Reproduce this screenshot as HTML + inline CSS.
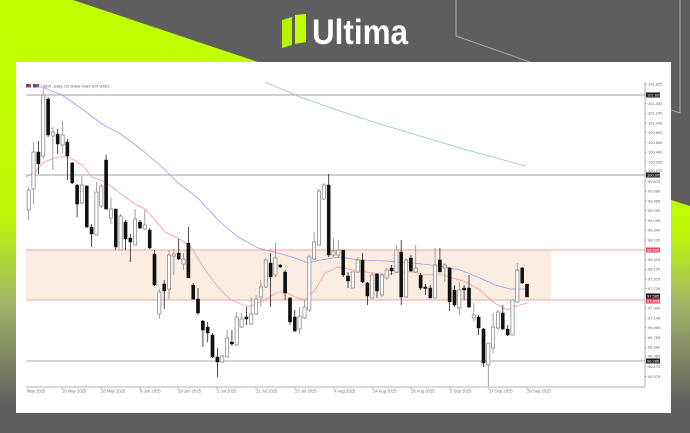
<!DOCTYPE html>
<html><head><meta charset="utf-8"><style>
html,body{margin:0;padding:0;width:690px;height:433px;overflow:hidden;background:#5e5e5e}
svg{display:block}
.w{fill:#fff;stroke:#7c7c7c;stroke-width:0.7}
.b{fill:#111;stroke:#111;stroke-width:0.4}
.ww{stroke:#8a8a8a;stroke-width:0.8}
.bw{stroke:#222;stroke-width:0.8}
.yl{font-family:"Liberation Sans",sans-serif;font-size:4px;fill:#666}
.dl{font-family:"Liberation Sans",sans-serif;font-size:4.2px;fill:#777}
.hl{font-family:"Liberation Sans",sans-serif;font-size:4px;fill:#fff}
</style></head><body>
<svg width="690" height="433" viewBox="0 0 690 433" xmlns="http://www.w3.org/2000/svg">
<defs>
<linearGradient id="gl" x1="0" y1="0" x2="0" y2="433" gradientUnits="userSpaceOnUse">
<stop offset="0" stop-color="#bfff00"/><stop offset="0.5" stop-color="#bdf808"/><stop offset="0.7" stop-color="#a2b468"/><stop offset="0.94" stop-color="#5e5e5e"/><stop offset="1" stop-color="#5e5e5e"/>
</linearGradient>
<linearGradient id="gr" x1="0" y1="200" x2="0" y2="433" gradientUnits="userSpaceOnUse">
<stop offset="0" stop-color="#bfff00"/><stop offset="0.15" stop-color="#bcf60a"/><stop offset="0.45" stop-color="#a3b468"/><stop offset="0.88" stop-color="#5e5e5e"/><stop offset="1" stop-color="#5e5e5e"/>
</linearGradient>
</defs>
<rect x="0" y="0" width="690" height="433" fill="#5e5e5e"/>
<polygon points="0,0 73,0 258,62 0,62" fill="#bfff00"/>
<rect x="0" y="0" width="16" height="433" fill="url(#gl)"/>
<polygon points="671,200 690,206 690,433 671,433" fill="url(#gr)"/>
<polyline points="456,0 456,36 530,62" fill="none" stroke="#a8a8a8" stroke-width="1"/>
<polyline points="660,106 680,113 680,0" fill="none" stroke="#a8a8a8" stroke-width="1"/>
<!-- logo -->
<polygon points="282,20 292,17 292,45 282,48" fill="#b8f200"/>
<polygon points="295,15 306,14 306,42 295,44" fill="#bfff00"/>
<text x="312" y="44" font-family="Liberation Sans,sans-serif" font-weight="bold" font-size="35" fill="#fff" textLength="96" lengthAdjust="spacingAndGlyphs">Ultima</text>
<!-- panel -->
<rect x="16" y="62" width="655" height="351" fill="#fff"/>
<!-- zone -->
<rect x="26" y="250" width="525" height="50" fill="#faeee3"/>
<line x1="26" y1="250" x2="645" y2="250" stroke="#f2a0a8" stroke-width="1"/>
<line x1="26" y1="300" x2="645" y2="300" stroke="#f2a0a8" stroke-width="1"/>
<line x1="26" y1="95" x2="645" y2="95" stroke="#a0a0a0" stroke-width="1"/>
<line x1="26" y1="175" x2="645" y2="175" stroke="#a0a0a0" stroke-width="1"/>
<line x1="26" y1="361" x2="645" y2="361" stroke="#a8a8a8" stroke-width="1"/>
<!-- title -->
<rect x="26" y="84" width="5" height="3.5" fill="#c04040"/><rect x="26" y="84" width="2.5" height="2" fill="#3050a0"/>
<rect x="33" y="84" width="6" height="3.5" fill="#3050a0"/><rect x="35.5" y="84" width="3.5" height="2" fill="#c04040"/>
<text x="41" y="87.5" font-family="Liberation Sans,sans-serif" font-size="3.8" fill="#555">USDX, Daily:  US Dollar Index (DX USD)</text>
<!-- MAs -->
<polyline fill="none" stroke="#9a9af0" stroke-width="0.8" points="36,87 42,87 62,95 82,109 102,124 122,135 142,150 162,167 178,183 198,198 218,220 238,237 258,248 278,253 295,258 308,263 321,260 338,257 360,260 386,261 413,263 440,266 460,270 480,278 495,285 510,289 527,289"/>
<polyline fill="none" stroke="#f39a9a" stroke-width="0.8" points="26,177 35,172 44,162 55,158 65,156 74,160 82,165 92,177 105,182 115,189 125,197 135,204 145,209 155,220 165,232 178,238 191,247 205,270 218,287 231,300 248,307 261,302 278,292 285,292 295,297 305,300 315,290 325,273 338,267 353,270 373,273 386,275 400,272 413,272 426,275 440,274 453,278 466,282 480,290 493,302 507,310 513,307 527,303"/>
<polyline fill="none" stroke="#8fcab8" stroke-width="0.8" points="265,82 300,97 340,111 380,124 420,136 460,148 500,159 525,166"/>
<!-- candles -->
<g>
<line class="ww" x1="28.7" x2="28.7" y1="187" y2="220"/><rect class="w" x="27.1" y="190" width="3.2" height="20"/>
<line class="ww" x1="33.5" x2="33.5" y1="142" y2="204"/><rect class="w" x="31.9" y="152" width="3.2" height="37"/>
<line class="bw" x1="38.4" x2="38.4" y1="141" y2="174"/><rect class="b" x="36.8" y="152" width="3.2" height="12"/>
<line class="ww" x1="43.2" x2="43.2" y1="88" y2="159"/><rect class="w" x="41.6" y="95" width="3.2" height="61"/>
<line class="bw" x1="48.1" x2="48.1" y1="97" y2="137"/><rect class="b" x="46.5" y="99" width="3.2" height="36"/>
<line class="ww" x1="52.9" x2="52.9" y1="127" y2="170"/><rect class="w" x="51.3" y="132" width="3.2" height="4"/>
<line class="bw" x1="57.7" x2="57.7" y1="129" y2="154"/><rect class="b" x="56.1" y="134" width="3.2" height="10"/>
<line class="ww" x1="62.6" x2="62.6" y1="121" y2="154"/><rect class="w" x="61" y="135" width="3.2" height="10"/>
<line class="bw" x1="67.4" x2="67.4" y1="139" y2="180"/><rect class="b" x="65.8" y="142" width="3.2" height="14"/>
<line class="bw" x1="72.2" x2="72.2" y1="162" y2="184"/><rect class="b" x="70.6" y="163" width="3.2" height="20"/>
<line class="bw" x1="77.1" x2="77.1" y1="184" y2="217"/><rect class="b" x="75.5" y="185" width="3.2" height="19"/>
<line class="ww" x1="81.9" x2="81.9" y1="176" y2="204"/><rect class="w" x="80.3" y="185" width="3.2" height="18"/>
<line class="bw" x1="86.8" x2="86.8" y1="185" y2="228"/><rect class="b" x="85.2" y="186" width="3.2" height="41"/>
<line class="bw" x1="91.6" x2="91.6" y1="224" y2="247"/><rect class="b" x="90" y="227" width="3.2" height="7"/>
<line class="ww" x1="96.4" x2="96.4" y1="182" y2="235"/><rect class="w" x="94.8" y="192" width="3.2" height="43"/>
<line class="ww" x1="101.3" x2="101.3" y1="184" y2="208"/><rect class="w" x="99.7" y="186" width="3.2" height="20"/>
<line class="bw" x1="106.1" x2="106.1" y1="155" y2="210"/><rect class="b" x="104.5" y="160" width="3.2" height="49"/>
<line class="ww" x1="110.9" x2="110.9" y1="197" y2="224"/><rect class="w" x="109.3" y="209" width="3.2" height="9"/>
<line class="bw" x1="115.8" x2="115.8" y1="209" y2="250"/><rect class="b" x="114.2" y="209" width="3.2" height="38"/>
<line class="ww" x1="120.6" x2="120.6" y1="214" y2="250"/><rect class="w" x="119" y="216" width="3.2" height="34"/>
<line class="bw" x1="125.5" x2="125.5" y1="220" y2="250"/><rect class="b" x="123.9" y="222" width="3.2" height="17"/>
<line class="bw" x1="130.3" x2="130.3" y1="234" y2="262"/><rect class="b" x="128.7" y="238" width="3.2" height="4"/>
<line class="ww" x1="135.1" x2="135.1" y1="209" y2="245"/><rect class="w" x="133.5" y="219" width="3.2" height="26"/>
<line class="bw" x1="140" x2="140" y1="220" y2="229"/><rect class="b" x="138.4" y="222" width="3.2" height="6"/>
<line class="ww" x1="144.8" x2="144.8" y1="210" y2="230"/><rect class="w" x="143.2" y="225" width="3.2" height="4"/>
<line class="bw" x1="149.7" x2="149.7" y1="228" y2="249"/><rect class="b" x="148.1" y="230" width="3.2" height="18"/>
<line class="bw" x1="154.5" x2="154.5" y1="250" y2="286"/><rect class="b" x="152.9" y="254" width="3.2" height="31"/>
<line class="ww" x1="159.3" x2="159.3" y1="289" y2="319"/><rect class="w" x="157.7" y="292" width="3.2" height="22"/>
<line class="bw" x1="164.2" x2="164.2" y1="280" y2="309"/><rect class="b" x="162.6" y="284" width="3.2" height="7"/>
<line class="ww" x1="169" x2="169" y1="250" y2="299"/><rect class="w" x="167.4" y="255" width="3.2" height="34"/>
<line class="ww" x1="173.8" x2="173.8" y1="249" y2="275"/><rect class="w" x="172.2" y="254" width="3.2" height="2"/>
<line class="bw" x1="178.7" x2="178.7" y1="239" y2="260"/><rect class="b" x="177.1" y="253" width="3.2" height="6"/>
<line class="ww" x1="183.5" x2="183.5" y1="253" y2="270"/><rect class="w" x="181.9" y="259" width="3.2" height="5"/>
<line class="bw" x1="188.4" x2="188.4" y1="227" y2="278"/><rect class="b" x="186.8" y="243" width="3.2" height="35"/>
<line class="bw" x1="193.2" x2="193.2" y1="283" y2="300"/><rect class="b" x="191.6" y="285" width="3.2" height="14"/>
<line class="bw" x1="198" x2="198" y1="288" y2="315"/><rect class="b" x="196.4" y="299" width="3.2" height="14"/>
<line class="bw" x1="202.9" x2="202.9" y1="320" y2="347"/><rect class="b" x="201.3" y="321" width="3.2" height="9"/>
<line class="bw" x1="207.7" x2="207.7" y1="322" y2="342"/><rect class="b" x="206.1" y="327" width="3.2" height="6"/>
<line class="bw" x1="212.5" x2="212.5" y1="333" y2="358"/><rect class="b" x="210.9" y="335" width="3.2" height="22"/>
<line class="bw" x1="217.4" x2="217.4" y1="348" y2="377"/><rect class="b" x="215.8" y="357" width="3.2" height="5"/>
<line class="ww" x1="222.2" x2="222.2" y1="355" y2="362"/><rect class="w" x="220.6" y="356" width="3.2" height="6"/>
<line class="ww" x1="227.1" x2="227.1" y1="330" y2="357"/><rect class="w" x="225.5" y="338" width="3.2" height="19"/>
<line class="bw" x1="231.9" x2="231.9" y1="330" y2="346"/><rect class="b" x="230.3" y="342" width="3.2" height="2"/>
<line class="ww" x1="236.7" x2="236.7" y1="312" y2="346"/><rect class="w" x="235.1" y="317" width="3.2" height="28"/>
<line class="ww" x1="241.6" x2="241.6" y1="313" y2="328"/><rect class="w" x="240" y="319" width="3.2" height="8"/>
<line class="bw" x1="246.4" x2="246.4" y1="307" y2="325"/><rect class="b" x="244.8" y="317" width="3.2" height="2"/>
<line class="ww" x1="251.2" x2="251.2" y1="297" y2="325"/><rect class="w" x="249.6" y="314" width="3.2" height="10"/>
<line class="ww" x1="256.1" x2="256.1" y1="295" y2="315"/><rect class="w" x="254.5" y="299" width="3.2" height="15"/>
<line class="ww" x1="260.9" x2="260.9" y1="280" y2="307"/><rect class="w" x="259.3" y="287" width="3.2" height="10"/>
<line class="ww" x1="265.8" x2="265.8" y1="258" y2="288"/><rect class="w" x="264.2" y="260" width="3.2" height="27"/>
<line class="bw" x1="270.6" x2="270.6" y1="253" y2="307"/><rect class="b" x="269" y="263" width="3.2" height="14"/>
<line class="ww" x1="275.4" x2="275.4" y1="243" y2="277"/><rect class="w" x="273.8" y="258" width="3.2" height="17"/>
<line class="bw" x1="280.3" x2="280.3" y1="264" y2="268"/><rect class="b" x="278.7" y="265" width="3.2" height="2"/>
<line class="bw" x1="285.1" x2="285.1" y1="270" y2="300"/><rect class="b" x="283.5" y="272" width="3.2" height="21"/>
<line class="bw" x1="290" x2="290" y1="297" y2="325"/><rect class="b" x="288.4" y="298" width="3.2" height="24"/>
<line class="bw" x1="294.8" x2="294.8" y1="310" y2="332"/><rect class="b" x="293.2" y="317" width="3.2" height="14"/>
<line class="ww" x1="299.6" x2="299.6" y1="307" y2="334"/><rect class="w" x="298" y="316" width="3.2" height="13"/>
<line class="ww" x1="304.5" x2="304.5" y1="300" y2="319"/><rect class="w" x="302.9" y="307" width="3.2" height="11"/>
<line class="ww" x1="309.3" x2="309.3" y1="255" y2="312"/><rect class="w" x="307.7" y="257" width="3.2" height="53"/>
<line class="ww" x1="314.1" x2="314.1" y1="232" y2="260"/><rect class="w" x="312.5" y="242" width="3.2" height="17"/>
<line class="ww" x1="319" x2="319" y1="189" y2="246"/><rect class="w" x="317.4" y="191" width="3.2" height="54"/>
<line class="ww" x1="323.8" x2="323.8" y1="183" y2="200"/><rect class="w" x="322.2" y="185" width="3.2" height="14"/>
<line class="bw" x1="328.7" x2="328.7" y1="174" y2="257"/><rect class="b" x="327.1" y="185" width="3.2" height="70"/>
<line class="ww" x1="333.5" x2="333.5" y1="238" y2="257"/><rect class="w" x="331.9" y="251" width="3.2" height="4"/>
<line class="ww" x1="338.3" x2="338.3" y1="240" y2="258"/><rect class="w" x="336.7" y="250" width="3.2" height="5"/>
<line class="bw" x1="343.2" x2="343.2" y1="250" y2="277"/><rect class="b" x="341.6" y="250" width="3.2" height="25"/>
<line class="bw" x1="348" x2="348" y1="272" y2="288"/><rect class="b" x="346.4" y="276" width="3.2" height="5"/>
<line class="ww" x1="352.8" x2="352.8" y1="272" y2="288"/><rect class="w" x="351.2" y="272" width="3.2" height="16"/>
<line class="ww" x1="357.7" x2="357.7" y1="257" y2="273"/><rect class="w" x="356.1" y="260" width="3.2" height="12"/>
<line class="bw" x1="362.5" x2="362.5" y1="253" y2="283"/><rect class="b" x="360.9" y="260" width="3.2" height="22"/>
<line class="bw" x1="367.4" x2="367.4" y1="282" y2="305"/><rect class="b" x="365.8" y="283" width="3.2" height="13"/>
<line class="ww" x1="372.2" x2="372.2" y1="273" y2="299"/><rect class="w" x="370.6" y="275" width="3.2" height="23"/>
<line class="bw" x1="377" x2="377" y1="273" y2="298"/><rect class="b" x="375.4" y="274" width="3.2" height="17"/>
<line class="ww" x1="381.9" x2="381.9" y1="273" y2="297"/><rect class="w" x="380.3" y="275" width="3.2" height="20"/>
<line class="ww" x1="386.7" x2="386.7" y1="268" y2="280"/><rect class="w" x="385.1" y="270" width="3.2" height="8"/>
<line class="bw" x1="391.6" x2="391.6" y1="265" y2="275"/><rect class="b" x="390" y="268" width="3.2" height="3"/>
<line class="ww" x1="396.4" x2="396.4" y1="245" y2="273"/><rect class="w" x="394.8" y="250" width="3.2" height="22"/>
<line class="bw" x1="401.2" x2="401.2" y1="240" y2="305"/><rect class="b" x="399.6" y="252" width="3.2" height="45"/>
<line class="ww" x1="406.1" x2="406.1" y1="258" y2="298"/><rect class="w" x="404.5" y="260" width="3.2" height="37"/>
<line class="bw" x1="410.9" x2="410.9" y1="255" y2="272"/><rect class="b" x="409.3" y="258" width="3.2" height="13"/>
<line class="ww" x1="415.7" x2="415.7" y1="245" y2="273"/><rect class="w" x="414.1" y="268" width="3.2" height="4"/>
<line class="bw" x1="420.6" x2="420.6" y1="273" y2="290"/><rect class="b" x="419" y="275" width="3.2" height="13"/>
<line class="bw" x1="425.4" x2="425.4" y1="284" y2="295"/><rect class="b" x="423.8" y="287" width="3.2" height="1.5"/>
<line class="bw" x1="430.3" x2="430.3" y1="285" y2="298"/><rect class="b" x="428.7" y="288" width="3.2" height="10"/>
<line class="ww" x1="435.1" x2="435.1" y1="248" y2="298"/><rect class="w" x="433.5" y="265" width="3.2" height="33"/>
<line class="bw" x1="439.9" x2="439.9" y1="248" y2="272"/><rect class="b" x="438.3" y="260" width="3.2" height="12"/>
<line class="ww" x1="444.8" x2="444.8" y1="263" y2="282"/><rect class="w" x="443.2" y="265" width="3.2" height="3"/>
<line class="bw" x1="449.6" x2="449.6" y1="267" y2="311"/><rect class="b" x="448" y="268" width="3.2" height="34"/>
<line class="bw" x1="454.5" x2="454.5" y1="285" y2="307"/><rect class="b" x="452.9" y="290" width="3.2" height="15"/>
<line class="ww" x1="459.3" x2="459.3" y1="282" y2="315"/><rect class="w" x="457.7" y="290" width="3.2" height="18"/>
<line class="bw" x1="464.1" x2="464.1" y1="285" y2="300"/><rect class="b" x="462.5" y="288" width="3.2" height="2"/>
<line class="bw" x1="469" x2="469" y1="275" y2="308"/><rect class="b" x="467.4" y="288" width="3.2" height="19"/>
<line class="ww" x1="473.8" x2="473.8" y1="303" y2="322"/><rect class="w" x="472.2" y="315" width="3.2" height="3"/>
<line class="bw" x1="478.6" x2="478.6" y1="315" y2="335"/><rect class="b" x="477" y="317" width="3.2" height="11"/>
<line class="bw" x1="483.5" x2="483.5" y1="328" y2="367"/><rect class="b" x="481.9" y="329" width="3.2" height="34"/>
<line class="ww" x1="488.3" x2="488.3" y1="343" y2="386"/><rect class="w" x="486.7" y="343" width="3.2" height="22"/>
<line class="ww" x1="493.1" x2="493.1" y1="313" y2="353"/><rect class="w" x="491.5" y="327" width="3.2" height="21"/>
<line class="ww" x1="498" x2="498" y1="310" y2="330"/><rect class="w" x="496.4" y="312" width="3.2" height="16"/>
<line class="bw" x1="502.8" x2="502.8" y1="305" y2="330"/><rect class="b" x="501.2" y="313" width="3.2" height="16"/>
<line class="bw" x1="507.7" x2="507.7" y1="325" y2="336"/><rect class="b" x="506.1" y="329" width="3.2" height="6"/>
<line class="ww" x1="512.5" x2="512.5" y1="300" y2="335"/><rect class="w" x="510.9" y="300" width="3.2" height="35"/>
<line class="ww" x1="517.3" x2="517.3" y1="263" y2="303"/><rect class="w" x="515.7" y="270" width="3.2" height="32"/>
<line class="bw" x1="522.2" x2="522.2" y1="267" y2="284"/><rect class="b" x="520.6" y="268" width="3.2" height="15"/>
<line class="bw" x1="527" x2="527" y1="284" y2="297"/><rect class="b" x="525.4" y="284" width="3.2" height="13"/>
</g>
<!-- axes -->
<line x1="645" y1="82" x2="645" y2="387" stroke="#9a9a9a" stroke-width="0.8"/>
<line x1="26" y1="387" x2="645" y2="387" stroke="#9a9a9a" stroke-width="0.8"/>
<g stroke="#9a9a9a" stroke-width="0.6">
<line x1="645" x2="647" y1="84" y2="84"/><line x1="645" x2="647" y1="103.5" y2="103.5"/><line x1="645" x2="647" y1="113.25" y2="113.25"/><line x1="645" x2="647" y1="123" y2="123"/><line x1="645" x2="647" y1="132.75" y2="132.75"/><line x1="645" x2="647" y1="142.5" y2="142.5"/><line x1="645" x2="647" y1="152.25" y2="152.25"/><line x1="645" x2="647" y1="162" y2="162"/><line x1="645" x2="647" y1="171.75" y2="171.75"/><line x1="645" x2="647" y1="181.5" y2="181.5"/><line x1="645" x2="647" y1="191.25" y2="191.25"/><line x1="645" x2="647" y1="201" y2="201"/><line x1="645" x2="647" y1="210.75" y2="210.75"/><line x1="645" x2="647" y1="220.5" y2="220.5"/><line x1="645" x2="647" y1="230.25" y2="230.25"/><line x1="645" x2="647" y1="240" y2="240"/><line x1="645" x2="647" y1="259.5" y2="259.5"/><line x1="645" x2="647" y1="269.25" y2="269.25"/><line x1="645" x2="647" y1="279" y2="279"/><line x1="645" x2="647" y1="288.75" y2="288.75"/><line x1="645" x2="647" y1="308.25" y2="308.25"/><line x1="645" x2="647" y1="318" y2="318"/><line x1="645" x2="647" y1="327.75" y2="327.75"/><line x1="645" x2="647" y1="337.5" y2="337.5"/><line x1="645" x2="647" y1="347.25" y2="347.25"/><line x1="645" x2="647" y1="357" y2="357"/><line x1="645" x2="647" y1="366.75" y2="366.75"/><line x1="645" x2="647" y1="376.5" y2="376.5"/>
<line x1="62" x2="62" y1="387" y2="390"/><line x1="101" x2="101" y1="387" y2="390"/><line x1="140" x2="140" y1="387" y2="390"/><line x1="178" x2="178" y1="387" y2="390"/><line x1="217" x2="217" y1="387" y2="390"/><line x1="256" x2="256" y1="387" y2="390"/><line x1="295" x2="295" y1="387" y2="390"/><line x1="334" x2="334" y1="387" y2="390"/><line x1="373" x2="373" y1="387" y2="390"/><line x1="411" x2="411" y1="387" y2="390"/><line x1="450" x2="450" y1="387" y2="390"/><line x1="489" x2="489" y1="387" y2="390"/><line x1="527" x2="527" y1="387" y2="390"/>
</g>
<g class="yl">
<text x="648" y="85.5">101.825</text>
<text x="648" y="105">101.435</text>
<text x="648" y="114.7">101.240</text>
<text x="648" y="124.5">101.045</text>
<text x="648" y="134.2">100.850</text>
<text x="648" y="144">100.655</text>
<text x="648" y="153.7">100.460</text>
<text x="648" y="163.5">100.265</text>
<text x="648" y="172">100.070</text>
<text x="648" y="183">99.875</text>
<text x="648" y="192.7">99.680</text>
<text x="648" y="202.5">99.485</text>
<text x="648" y="212.2">99.290</text>
<text x="648" y="222">99.095</text>
<text x="648" y="231.7">98.900</text>
<text x="648" y="241.5">98.705</text>
<text x="648" y="261">98.315</text>
<text x="648" y="270.7">98.120</text>
<text x="648" y="280.5">97.925</text>
<text x="648" y="290.2">97.730</text>
<text x="648" y="309.7">97.340</text>
<text x="648" y="319.5">97.145</text>
<text x="648" y="329.2">96.950</text>
<text x="648" y="339">96.755</text>
<text x="648" y="348.7">96.560</text>
<text x="648" y="357.5">96.365</text>
<text x="648" y="368.2">96.170</text>
<text x="648" y="378">95.975</text>
</g>
<rect x="646" y="92.5" width="14" height="5" fill="#1a1a1a"/><text class="hl" x="647" y="96.5">101.605</text>
<rect x="646" y="172.5" width="14" height="5" fill="#1a1a1a"/><text class="hl" x="647" y="176.5">100.005</text>
<rect x="646" y="247.5" width="14" height="5" fill="#e8455f"/><text class="hl" x="647" y="251.5">98.505</text>
<rect x="646" y="293.5" width="14" height="5" fill="#1a1a1a"/><text class="hl" x="647" y="297.5">97.585</text>
<rect x="646" y="298.5" width="14" height="5" fill="#e8455f"/><text class="hl" x="647" y="302.5">97.505</text>
<rect x="646" y="358.5" width="14" height="5" fill="#1a1a1a"/><text class="hl" x="647" y="362.5">96.285</text>
<g class="dl">
<text x="27" y="392.5">May 2025</text>
<text x="62" y="392.5">16 May 2025</text>
<text x="101" y="392.5">28 May 2025</text>
<text x="140" y="392.5">9 Jun 2025</text>
<text x="178" y="392.5">19 Jun 2025</text>
<text x="217" y="392.5">1 Jul 2025</text>
<text x="256" y="392.5">11 Jul 2025</text>
<text x="295" y="392.5">23 Jul 2025</text>
<text x="334" y="392.5">4 Aug 2025</text>
<text x="373" y="392.5">14 Aug 2025</text>
<text x="411" y="392.5">26 Aug 2025</text>
<text x="450" y="392.5">5 Sep 2025</text>
<text x="489" y="392.5">17 Sep 2025</text>
<text x="527" y="392.5">29 Sep 2025</text>
</g>
</svg>
</body></html>
